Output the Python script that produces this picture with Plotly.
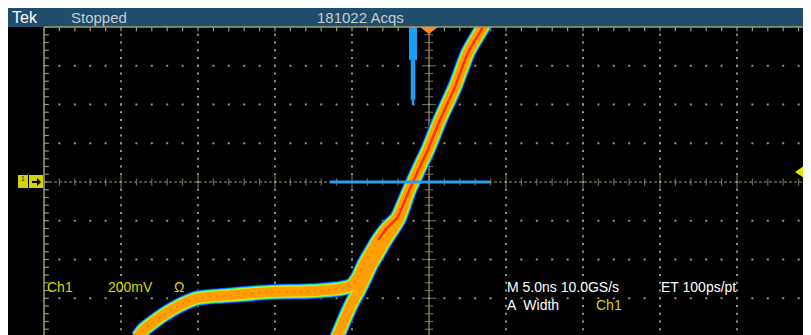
import numpy as np
import plotly.graph_objects as go

# === Данные осциллограммы (время в нс, напряжение в мВ) ===
# основная ветвь фронта (с "полкой")
edge_a_ns = [-18.90, -18.57, -17.92, -17.27, -16.17, -15.06, -12.92, -10.13, -7.53,
             -5.58, -5.00, -4.61, -4.22, -3.77, -3.31, -2.73, -2.08, -1.36, -1.04,
             -0.45, -0.13, 0.71, 1.69, 2.53, 3.51, 3.77]
edge_a_mv = [-801, -765, -724, -687, -636, -600, -584, -568, -563,
             -548, -532, -491, -424, -362, -300, -238, -186, -57, 0,
             103, 155, 320, 491, 667, 801, 837]

# вторая (крутая) ветвь, сливается с основной
edge_b_ns = [-5.97, -5.45, -5.00, -4.61, -4.16, -3.77, -3.31, -2.86, -2.40, -1.95, -1.36]
edge_b_mv = [-801, -703, -625, -568, -496, -429, -367, -305, -248, -191, -57]

# курсор/гистограмма ширины
cursor_ns = [-6.43, 3.96]
cursor_mv = [0, 0]
hist_ns = -1.04
hist_top_mv = [800, 630, 424]
hist_bot_mv = [630, 424, 398]

trig_pos_ns = 0.0
trig_level_mv = 52

# === Геометрия ===
W, H = 811, 335
ML, MR, MT, MB = 36, 5, 19, 6
PW, PH = W - ML - MR, H - MT - MB


def px(xp):
    # координата страницы -> доля paper
    return (xp - 8 - ML) / PW


def py(yp):
    return 1 - (yp - 8 - MT) / PH


GRID = '#9a9278'
fig = go.Figure()

# === Сетка (точки) ===
gx, gy = [], []
for t in [-20, -15, -10, -5, 5, 10, 15, 20]:
    for v in np.arange(-800, 801, 40):
        gx.append(t)
        gy.append(v)
for v in [-600, -400, -200, 200, 400, 600]:
    for t in np.arange(-25, 26, 1):
        gx.append(t)
        gy.append(v)
fig.add_trace(go.Scatter(x=gx, y=gy, mode='markers', hoverinfo='skip',
                         marker=dict(symbol='square', size=2, color=GRID)))

# центральная горизонталь
fig.add_trace(go.Scatter(x=[-25, 25], y=[0, 0], mode='lines', hoverinfo='skip',
                         line=dict(color=GRID, width=1.2, dash='3px,2px')))
ht = np.arange(-25, 26, 1)
fig.add_trace(go.Scatter(x=ht, y=[0] * len(ht), mode='markers', hoverinfo='skip',
                         marker=dict(symbol='line-ns', size=[9 if t % 5 == 0 else 5 for t in ht],
                                     line=dict(color=GRID, width=1.2))))
# центральная вертикаль
fig.add_trace(go.Scatter(x=[0, 0], y=[-800, 800], mode='lines', hoverinfo='skip',
                         line=dict(color=GRID, width=1.2)))
vt = np.arange(-800, 801, 40)
fig.add_trace(go.Scatter(x=[0] * len(vt), y=vt, mode='markers', hoverinfo='skip',
                         marker=dict(symbol='line-ew', size=[10 if v % 200 == 0 else 6 for v in vt],
                                     line=dict(color=GRID, width=1.2))))
# засечки на рамке
fig.add_trace(go.Scatter(x=ht, y=[800] * len(ht), mode='markers', hoverinfo='skip',
                         marker=dict(symbol='line-ns', size=6, line=dict(color='#98a06c', width=1.2))))
fig.add_trace(go.Scatter(x=[-25] * len(vt), y=vt, mode='markers', hoverinfo='skip',
                         marker=dict(symbol='line-ew', size=7, line=dict(color=GRID, width=1.2))))

# === Персистентная осциллограмма (слои цвета) ===
layers = [('#0a28f0', 16), ('#00b8ff', 14.5), ('#40ff60', 13),
          ('#f4f000', 11.5), ('#ffa000', 10)]
for color, width in layers:
    for xs, ys in [(edge_a_ns, edge_a_mv), (edge_b_ns, edge_b_mv)]:
        fig.add_trace(go.Scatter(x=xs, y=ys, mode='lines', hoverinfo='skip',
                                 line=dict(color=color, width=width, shape='spline', smoothing=0.6)))
# красная середина — только на крутом участке
k = edge_a_mv.index(-300)
fig.add_trace(go.Scatter(x=edge_a_ns[k:], y=edge_a_mv[k:], mode='lines', hoverinfo='skip',
                         line=dict(color='#ff3200', width=2.5, shape='spline', smoothing=0.6)))
fig.add_trace(go.Scatter(x=edge_a_ns[:k + 1], y=edge_a_mv[:k + 1], mode='lines', hoverinfo='skip',
                         opacity=0.45,
                         line=dict(color='#ff4000', width=1.5, dash='2px,5px', shape='spline', smoothing=0.6)))

# курсор и гистограмма
fig.add_trace(go.Scatter(x=cursor_ns, y=cursor_mv, mode='lines', hoverinfo='skip',
                         line=dict(color='#2a9ded', width=3)))
for top, bot, w in zip(hist_top_mv, hist_bot_mv, [8, 4.5, 2.5]):
    fig.add_trace(go.Scatter(x=[hist_ns, hist_ns], y=[top, bot], mode='lines', hoverinfo='skip',
                             line=dict(color='#18a0f5', width=w)))

# === Фигуры: шапка, рамка, маркеры ===
shapes = [
    dict(type='rect', xref='paper', yref='paper', x0=px(0), x1=px(830), y0=py(8), y1=py(27),
         fillcolor='#204d6b', line_width=0, layer='above'),
    dict(type='line', xref='paper', yref='paper', x0=0, x1=1, y0=1, y1=1,
         line=dict(color='#98a06c', width=1.5)),
    dict(type='line', xref='paper', yref='paper', x0=0, x1=0, y0=0, y1=1,
         line=dict(color='#a0987e', width=1.5)),
    # маркер позиции триггера
    dict(type='path', xref='x', yref='paper', xsizemode='pixel', ysizemode='pixel',
         xanchor=trig_pos_ns, yanchor=1, path='M-9,0 L9,0 L0,-7 Z',
         fillcolor='#ff8c1a', line_width=0),
    # уровень триггера (стрелка справа)
    dict(type='path', xref='paper', yref='y', xsizemode='pixel', ysizemode='pixel',
         xanchor=px(795), yanchor=trig_level_mv, path='M0,0 L9,6 L9,-6 Z',
         fillcolor='#e6e600', line_width=0),
    dict(type='line', xref='paper', yref='y', x0=px(802), x1=px(815),
         y0=trig_level_mv, y1=trig_level_mv, line=dict(color='#e6e600', width=2.5)),
    # маркер канала 1
    dict(type='rect', xref='paper', yref='y', xsizemode='pixel', ysizemode='pixel',
         xanchor=0, yanchor=0, x0=-26, x1=-16, y0=-6, y1=7, fillcolor='#d2d214', line_width=0),
    dict(type='rect', xref='paper', yref='y', xsizemode='pixel', ysizemode='pixel',
         xanchor=0, yanchor=0, x0=-15, x1=-1, y0=-6, y1=7, fillcolor='#d2d214', line_width=0),
    dict(type='path', xref='paper', yref='y', xsizemode='pixel', ysizemode='pixel',
         xanchor=0, yanchor=0, path='M-12,0 L-6,0', line=dict(color='black', width=2)),
    dict(type='path', xref='paper', yref='y', xsizemode='pixel', ysizemode='pixel',
         xanchor=0, yanchor=0, path='M-7,-4 L-3,0 L-7,4 Z', fillcolor='black', line_width=0),
]

FONT = 'Liberation Sans, Arial, sans-serif'
YEL = '#d8d800'
labels = [
    ('Tek', 10, 17, '#ffffff', 16),
    ('Stopped', 69, 17, '#c4ccd4', 15),
    ('181022 Acqs', 315, 17, '#c4ccd4', 15),
    ('Ch1', 45, 287, YEL, 14),
    ('200mV', 106, 287, YEL, 14),
    ('Ω', 172, 287, YEL, 14),
    ('M 5.0ns 10.0GS/s', 505, 287, '#ffffff', 14),
    ('ET 100ps/pt', 659, 287, '#ffffff', 14),
    ('A  Width', 505, 305, '#ffffff', 14),
    ('Ch1', 594, 305, YEL, 14),
]
annotations = [
    dict(text='1', xref='paper', yref='paper', x=px(19), y=py(179), xanchor='left', yanchor='middle',
         showarrow=False, font=dict(family=FONT, size=7, color='#303000'))
]
for text, x, y, color, size in labels:
    annotations.append(dict(text=text, xref='paper', yref='paper', x=px(x), y=py(y),
                            xanchor='left', yanchor='middle', showarrow=False,
                            font=dict(family=FONT, size=size, color=color)))

fig.update_layout(
    width=W, height=H,
    margin=dict(l=ML, r=MR, t=MT, b=MB, pad=0),
    paper_bgcolor='black',
    plot_bgcolor='black',
    showlegend=False,
    shapes=shapes,
    annotations=annotations,
    xaxis=dict(range=[-25, 25], visible=False, fixedrange=True),
    yaxis=dict(range=[-800, 800], visible=False, fixedrange=True),
)

fig.write_html("out.html")
